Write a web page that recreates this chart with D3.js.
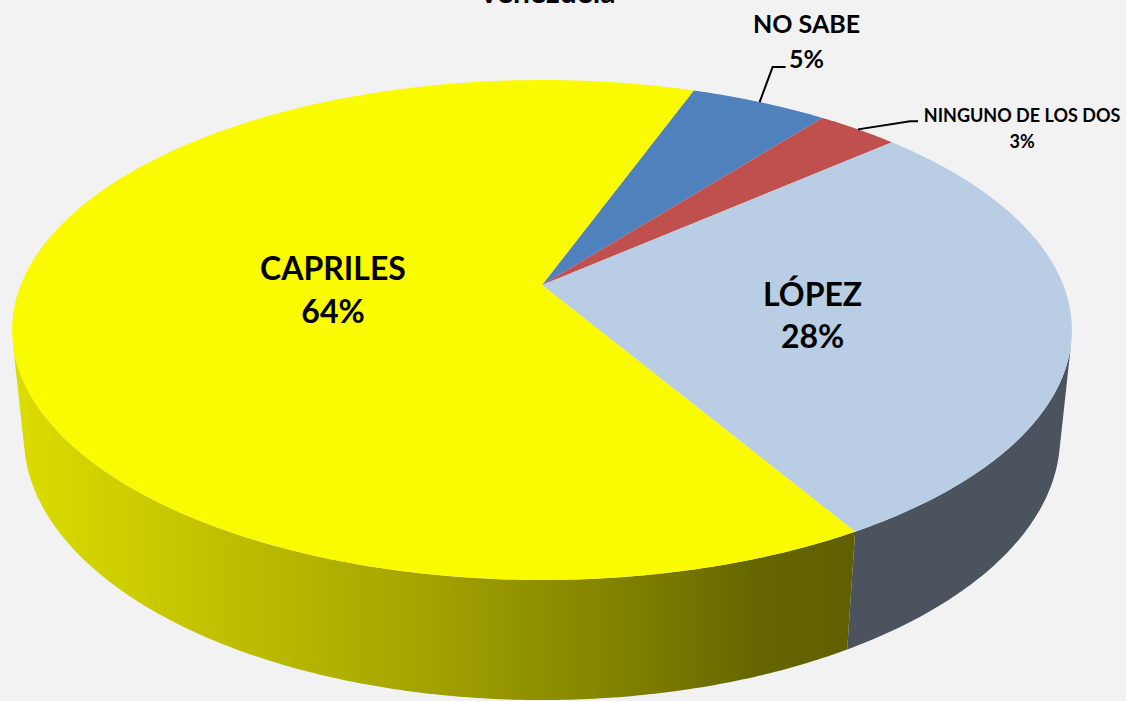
<!DOCTYPE html>
<html>
<head>
<meta charset="utf-8">
<script src="https://cdn.jsdelivr.net/npm/d3@7"></script>
<style>
  body { margin: 0; background: #f2f2f2; }
  svg { display: block; }
  text { font-family: Lato, "Open Sans", sans-serif; font-weight: 700; fill: #000; }
</style>
</head>
<body>
<script>
// chart data
const categories = ["NO SABE", "NINGUNO DE LOS DOS", "LÓPEZ", "CAPRILES"];
const values = [5, 3, 28, 64];
const percentLabels = ["5%", "3%", "28%", "64%"];
const title = "Venezuela";

// colors for the top faces and the side walls
const topColors = ["#4f81bd", "#c0504d", "#b9cde5", "#fafa00"];
const sideColors = ["#2c4d75", "#772c2a", "#4a535e", "url(#yellowSide)"];

// set dimensions
const WIDTH = 1126;
const HEIGHT = 701;

// 3d view of the pie: camera tilt, distance, focal length, thickness
const CX = 542, CY = 285;
const PHI = Math.asin(0.464);
const DIST = 4.921;
const FOCAL = 2565;
const THICK = 0.233;

// project a point of the disk (angle clockwise from the back, radius, height) to the screen
function project(theta, r, h) {
    const X = r * Math.sin(theta);
    const Z = -r * Math.cos(theta);
    const w = DIST - h * Math.sin(PHI) - Z * Math.cos(PHI);
    const ys = h * Math.cos(PHI) - Z * Math.sin(PHI);
    return [CX + FOCAL * X / w, CY - FOCAL * ys / w];
}

function arcPoints(a0, a1, r, h) {
    const n = Math.max(2, Math.ceil(Math.abs(a1 - a0) / 0.01));
    return d3.range(n + 1).map(i => project(a0 + (a1 - a0) * i / n, r, h));
}

let SVG = d3.select('body')
            .append('svg')
            .attr('width', WIDTH)
            .attr('height', HEIGHT);

// gradient for the front wall of the big slice
const grad = SVG.append('defs')
                .append('linearGradient')
                .attr('id', 'yellowSide')
                .attr('gradientUnits', 'userSpaceOnUse')
                .attr('x1', 20).attr('x2', 850)
                .attr('y1', 0).attr('y2', 0);
[[0, '#dcdc00'], [0.45, '#a8a800'], [0.7, '#858500'], [0.9, '#646400'], [1, '#606000']]
    .forEach(s => grad.append('stop').attr('offset', s[0]).attr('stop-color', s[1]));

// slice angles
const start = 19.9 * Math.PI / 180;
const pie = d3.pie().sort(null).value(d => d)
              .startAngle(start).endAngle(start + 2 * Math.PI);
const arcs = pie(values);

const line = d3.line();

// visible part of the outer wall
const vis = Math.acos(-1 / (DIST * Math.cos(PHI)));
const visRange = [vis, 2 * Math.PI - vis];

const walls = SVG.append('g');
arcs.forEach((d, i) => {
    [0, 2 * Math.PI].forEach(shift => {
        const s = Math.max(d.startAngle, visRange[0] + shift);
        const e = Math.min(d.endAngle, visRange[1] + shift);
        if (e <= s) return;
        const pts = arcPoints(s, e, 1, 0).concat(arcPoints(e, s, 1, -THICK));
        walls.append('path')
             .attr('d', line(pts) + 'Z')
             .attr('fill', sideColors[i]);
    });
});

// top faces
const tops = SVG.append('g');
arcs.forEach((d, i) => {
    const pts = [project(0, 0, 0)].concat(arcPoints(d.startAngle, d.endAngle, 1, 0));
    tops.append('path')
        .attr('d', line(pts) + 'Z')
        .attr('fill', topColors[i]);
});

// labels inside the two big slices
const inner = [
    {i: 3, r: 0.4, da: 0, size: 32, gap: 43},
    {i: 2, r: 0.525, da: 6.3, size: 32, gap: 42}
];
inner.forEach(l => {
    const d = arcs[l.i];
    const mid = (d.startAngle + d.endAngle) / 2 + l.da * Math.PI / 180;
    const p = project(mid, l.r, 0);
    const g = SVG.append('g').attr('transform', 'translate(' + p[0] + ',' + p[1] + ')');
    g.append('text').attr('text-anchor', 'middle').attr('y', -14)
     .style('font-size', l.size + 'px').text(categories[l.i]);
    g.append('text').attr('text-anchor', 'middle').attr('y', -14 + l.gap)
     .style('font-size', l.size + 'px').text(percentLabels[l.i]);
});

// labels outside the small slices, with leader lines
const outer = [
    {i: 0, elbow: [13, -35], tail: 13, text: [47, -69], size: 25, gap: 35},
    {i: 1, elbow: [52, -8], tail: 8, text: [164, -7], size: 18, gap: 26}
];
outer.forEach(l => {
    const d = arcs[l.i];
    const mid = (d.startAngle + d.endAngle) / 2;
    const p = project(mid, 1, 0);
    const e = [p[0] + l.elbow[0], p[1] + l.elbow[1]];
    SVG.append('path')
       .attr('d', line([p, e, [e[0] + l.tail, e[1]]]))
       .attr('fill', 'none')
       .attr('stroke', '#000')
       .attr('stroke-width', 2);
    const g = SVG.append('g')
                 .attr('transform', 'translate(' + (p[0] + l.text[0]) + ',' + (p[1] + l.text[1]) + ')');
    g.append('text').attr('text-anchor', 'middle')
     .style('font-size', l.size + 'px').text(categories[l.i]);
    g.append('text').attr('text-anchor', 'middle').attr('y', l.gap)
     .style('font-size', l.size + 'px').text(percentLabels[l.i]);
});

// title, mostly cut off by the top edge
SVG.append('text')
   .attr('x', 547)
   .attr('y', 3)
   .attr('text-anchor', 'middle')
   .style('font-size', '30px')
   .text(title);
</script>
</body>
</html>
